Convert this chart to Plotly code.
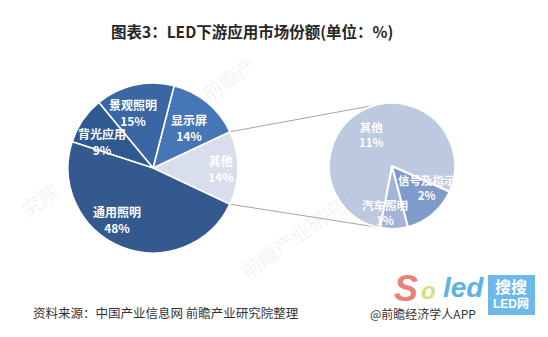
import math
import plotly.graph_objects as go

W, H = 548, 337

# Main pie: LED downstream application shares (%)
main_labels = ["其他", "显示屏", "景观照明", "背光应用", "通用照明"]
main_values = [14, 14, 15, 9, 48]
main_colors = ["#D8DEEB", "#4676B8", "#3A67A3", "#2F5A91", "#33598E"]

# Breakdown of the "其他" slice
sub_labels = ["汽车照明", "信号及指示", "其他"]
sub_values = [1, 2, 11]
sub_colors = ["#A3B4D7", "#7F9BCB", "#BCC9DE"]

title_text = "图表3：LED下游应用市场份额(单位：%)"
source_text = "资料来源：中国产业信息网 前瞻产业研究院整理"
credit_text = "@前瞻经济学人APP"

# Geometry in pixels: centre x, centre y (from top), radius
MAIN_C = (153, 168, 85)
SUB_C = (392, 166, 63)
SUB_START = -101  # math angle (deg) where the first breakdown slice begins


def domain(c):
    cx, cy, r = c
    return dict(x=[(cx - r) / W, (cx + r) / W],
                y=[1 - (cy + r) / H, 1 - (cy - r) / H])


def px_to_paper(x, y):
    return x / W, 1 - y / H


def point(c, ang, frac=1.0):
    cx, cy, r = c
    a = math.radians(ang)
    return cx + r * frac * math.cos(a), cy - r * frac * math.sin(a)


def ccw_rotation(start, values):
    # plotly (counterclockwise): first slice occupies [rotation, rotation + span0]
    # measured clockwise from 12 o'clock
    span0 = values[0] / sum(values) * 360
    return 90 - (start + span0)


def text_at(x, y, text, size, color, family="Noto Sans CJK SC", xanchor="center", **kw):
    px, py = px_to_paper(x, y)
    return dict(x=px, y=py, xref="paper", yref="paper", showarrow=False,
                xanchor=xanchor, yanchor="middle", text=text,
                font=dict(family=family, size=size, color=color), **kw)


main_start = -main_values[0] / sum(main_values) * 360 / 2

fig = go.Figure()
fig.add_trace(go.Pie(
    labels=main_labels, values=main_values, sort=False,
    direction="counterclockwise", rotation=ccw_rotation(main_start, main_values),
    marker=dict(colors=main_colors, line=dict(color="white", width=1.6)),
    textinfo="none", hoverinfo="label+percent", domain=domain(MAIN_C),
    showlegend=False,
))
fig.add_trace(go.Pie(
    labels=sub_labels, values=sub_values, sort=False,
    direction="counterclockwise", rotation=ccw_rotation(SUB_START, sub_values),
    marker=dict(colors=sub_colors, line=dict(color="white", width=2)),
    textinfo="none", hoverinfo="label+value", domain=domain(SUB_C),
    showlegend=False,
))

annotations = []


def slice_labels(labels, values, c, start, tweaks, size):
    total = sum(values)
    acc = start
    for lab, v in zip(labels, values):
        span = v / total * 360
        mid = acc + span / 2
        frac, nudge = tweaks[lab]
        x, y = point(c, mid + nudge, frac)
        annotations.append(text_at(x, y, f"<b>{lab}</b><br><b>{v}%</b>", size, "white",
                                   align="center"))
        acc += span


slice_labels(main_labels, main_values, MAIN_C, main_start, {
    "其他": (0.80, 0), "显示屏": (0.63, -2), "景观照明": (0.69, 7),
    "背光应用": (0.67, 7), "通用照明": (0.74, -13)}, 12)
slice_labels(sub_labels, sub_values, SUB_C, SUB_START, {
    "汽车照明": (0.74, -10), "信号及指示": (0.65, 18), "其他": (0.60, 5)}, 11.5)

# Connector lines between the "其他" slice and the breakdown pie
shapes = []
half = main_values[0] / sum(main_values) * 360 / 2
for sgn in (1, -1):
    x0, y0 = point(MAIN_C, sgn * half)
    x1, y1 = point(SUB_C, sgn * 104)
    p0 = px_to_paper(x0, y0)
    p1 = px_to_paper(x1, y1)
    shapes.append(dict(type="line", xref="paper", yref="paper",
                       x0=p0[0], y0=p0[1], x1=p1[0], y1=p1[1],
                       line=dict(color="#A6A6A6", width=1), layer="below"))

# Faint diagonal watermarks
for wx, wy, wt in [(228, 78, "前瞻产"), (300, 232, "前瞻产业研究院"), (40, 200, "究院")]:
    annotations.append(text_at(wx, wy, wt, 20, "rgba(170,175,190,0.16)", textangle=-35))

# Title
annotations.append(text_at(252, 31, f"<b>{title_text}</b>", 15.5, "#262626"))

# Logo block at bottom right
bx0, by0 = px_to_paper(488, 275)
bx1, by1 = px_to_paper(535, 315)
shapes.append(dict(type="rect", xref="paper", yref="paper",
                   x0=bx0, y0=by1, x1=bx1, y1=by0,
                   fillcolor="#6CB9EA", line=dict(width=0), layer="below"))
for lx, ly, lt, ls, lc in [(406, 288, "<b><i>S</i></b>", 36, "#E9807B"),
                           (428, 290, "<b><i>o</i></b>", 24, "#D3E07E"),
                           (463, 287, "<b><i>led</i></b>", 28, "#5DB2E6"),
                           (511, 287, "<b>搜搜</b>", 16, "white"),
                           (511, 304, "<b>LED网</b>", 12, "white")]:
    annotations.append(text_at(lx, ly, lt, ls, lc,
                               family="Liberation Sans, Noto Sans CJK SC"))

# Source and credit lines
annotations.append(text_at(31, 312, source_text, 12.5, "#333333", xanchor="left"))
annotations.append(text_at(368, 313, credit_text, 12, "#333333", xanchor="left"))

fig.update_layout(
    width=W, height=H, margin=dict(l=0, r=0, t=0, b=0),
    paper_bgcolor="white", plot_bgcolor="white",
    annotations=annotations, shapes=shapes,
)

fig.write_html("out.html", config={"displayModeBar": False})
